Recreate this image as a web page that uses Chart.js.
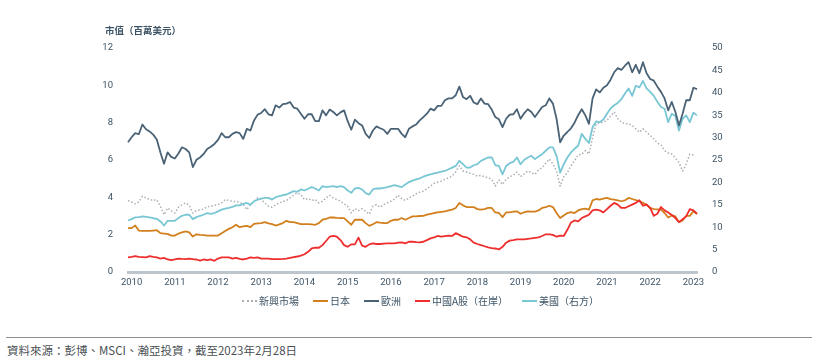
<!DOCTYPE html>
<html>
<head>
<meta charset="utf-8">
<script src="https://cdn.jsdelivr.net/npm/chart.js@4.4.1/dist/chart.umd.min.js"></script>
<style>
  html, body { margin: 0; padding: 0; background: #fff; }
  #wrap { position: relative; width: 820px; height: 362px; overflow: hidden; }
  #c { position: absolute; left: 0; top: 0; }
  #ytitle { position: absolute; left: 105px; top: 23px; font: bold 9.5px "Noto Sans CJK TC", "Noto Sans", sans-serif; color: #3d5466; white-space: nowrap; }
  #legend { position: absolute; left: 242px; top: 293px; display: flex; align-items: center; font: 10px "Noto Sans CJK TC", "Noto Sans", sans-serif; color: #3d5466; white-space: nowrap; }
  #legend .item { display: flex; align-items: center; margin-right: 14px; }
  #legend .swatch { display: inline-block; width: 15px; height: 0; margin-right: 2px; }
  #rule { position: absolute; left: 6px; top: 337px; width: 806px; height: 0; border-top: 1px solid #8a8f93; }
  #source { position: absolute; left: 7px; top: 342px; font: 11.5px "Noto Sans CJK TC", "Noto Sans", sans-serif; color: #4a4f54; white-space: nowrap; }
</style>
</head>
<body>
<div id="wrap">
  <canvas id="c" width="820" height="300"></canvas>
  <div id="ytitle">市值（百萬美元）</div>
  <div id="legend"></div>
  <div id="rule"></div>
  <div id="source">資料來源：彭博、MSCI、瀚亞投資，截至2023年2月28日</div>
</div>
<script>
// ---- categories: month-end points, Dec 2009 .. Feb 2023 ----
const startYear = 2009, startMonth = 12, monthCount = 159;
const months = [];
for (let i = 0; i < monthCount; i++) {
  const t = (startYear * 12 + (startMonth - 1)) + i;
  const y = Math.floor(t / 12), m = (t % 12) + 1;
  months.push(y + '-' + String(m).padStart(2, '0'));
}
const yearLabels = ['2010','2011','2012','2013','2014','2015','2016','2017','2018','2019','2020','2021','2022','2023'];
const leftTicks = [0, 2, 4, 6, 8, 10, 12];
const rightTicks = [0, 5, 10, 15, 20, 25, 30, 35, 40, 45, 50];

// ---- series (left axis unless noted) ----
const emerging = [
  3.83, 3.75, 3.65, 3.75, 4.06, 3.97, 3.90, 3.83, 3.88, 3.52,
  3.07, 3.43, 3.29, 3.16, 3.47, 3.60, 3.70, 3.57, 3.16, 3.29,
  3.32, 3.38, 3.50, 3.52, 3.57, 3.61, 3.70, 3.88, 3.83, 3.79,
  3.77, 3.75, 3.61, 3.34, 3.61, 3.79, 3.97, 3.88, 3.70, 3.52,
  3.47, 3.60, 3.70, 3.77, 3.83, 3.97, 4.11, 4.24, 4.15, 3.88,
  3.93, 3.83, 3.88, 3.70, 3.79, 3.97, 4.11, 3.97, 3.88, 3.79,
  3.65, 3.52, 3.16, 3.39, 3.29, 3.39, 3.25, 3.10, 3.52, 3.61,
  3.47, 3.61, 3.70, 3.79, 3.91, 4.11, 3.93, 3.83, 3.97, 4.06,
  4.19, 4.27, 4.33, 4.46, 4.60, 4.75, 4.81, 4.87, 4.96, 5.05,
  5.14, 5.36, 5.69, 5.41, 5.36, 5.29, 5.23, 5.14, 5.18, 5.10,
  5.05, 4.96, 4.60, 4.93, 4.69, 4.96, 5.11, 5.18, 5.36, 5.11,
  5.25, 5.41, 5.32, 5.23, 5.47, 5.59, 5.83, 6.05, 5.78, 5.41,
  4.60, 5.10, 5.32, 5.69, 5.96, 6.28, 6.30, 6.50, 6.32, 7.20,
  7.94, 7.98, 8.03, 8.12, 8.35, 8.57, 8.21, 8.03, 7.94, 7.94,
  7.85, 7.67, 7.49, 7.67, 7.49, 7.31, 7.13, 6.91, 6.80, 6.50,
  6.37, 6.32, 6.10, 5.86, 5.41, 5.78, 6.32, 6.26, null
];
const japan = [
  2.35, 2.35, 2.49, 2.22, 2.20, 2.20, 2.20, 2.22, 2.24, 2.08,
  2.06, 2.04, 1.95, 1.95, 2.06, 2.12, 2.17, 2.12, 1.90, 2.02,
  1.99, 1.97, 1.95, 1.95, 1.95, 1.95, 2.08, 2.20, 2.31, 2.40,
  2.53, 2.40, 2.44, 2.47, 2.40, 2.58, 2.60, 2.62, 2.67, 2.60,
  2.56, 2.49, 2.55, 2.62, 2.74, 2.67, 2.67, 2.62, 2.56, 2.56,
  2.56, 2.55, 2.53, 2.62, 2.80, 2.85, 2.92, 2.92, 2.90, 2.89,
  2.89, 2.71, 2.53, 2.80, 2.80, 2.80, 2.62, 2.47, 2.56, 2.67,
  2.64, 2.62, 2.62, 2.74, 2.80, 2.80, 2.89, 2.80, 2.89, 2.98,
  2.98, 3.00, 3.01, 3.07, 3.12, 3.16, 3.19, 3.22, 3.25, 3.30,
  3.34, 3.43, 3.70, 3.57, 3.48, 3.48, 3.48, 3.37, 3.34, 3.37,
  3.43, 3.43, 3.19, 3.16, 2.94, 3.19, 3.19, 3.23, 3.25, 3.12,
  3.20, 3.25, 3.23, 3.23, 3.30, 3.43, 3.48, 3.55, 3.48, 3.16,
  2.89, 3.03, 3.16, 3.21, 3.16, 3.30, 3.37, 3.39, 3.34, 3.84,
  3.91, 3.88, 3.93, 3.97, 3.90, 3.88, 3.84, 3.79, 3.84, 3.97,
  3.91, 3.85, 3.79, 3.70, 3.61, 3.43, 3.37, 3.36, 3.34, 3.16,
  2.92, 3.03, 2.98, 2.67, 2.76, 3.01, 3.01, 3.25, 3.10
];
const europe = [
  6.95, 7.22, 7.44, 7.38, 7.90, 7.65, 7.53, 7.36, 7.10, 6.40,
  5.80, 6.41, 6.17, 6.08, 6.35, 6.68, 6.59, 6.41, 5.62, 6.01,
  6.14, 6.32, 6.59, 6.71, 6.86, 7.08, 7.44, 7.22, 7.22, 7.40,
  7.49, 7.44, 7.13, 7.67, 7.58, 8.12, 8.43, 8.52, 8.72, 8.45,
  8.39, 8.93, 8.81, 8.99, 9.02, 9.11, 8.81, 8.75, 8.48, 8.21,
  8.45, 8.45, 8.08, 8.08, 8.66, 8.39, 8.70, 8.57, 8.39, 8.55,
  8.66, 8.08, 7.62, 8.16, 7.97, 7.85, 7.40, 7.18, 7.58, 7.80,
  7.70, 7.62, 7.40, 7.67, 7.67, 7.67, 7.40, 7.22, 7.67, 7.80,
  7.90, 8.12, 8.30, 8.48, 8.75, 8.66, 8.90, 8.90, 9.20, 9.30,
  9.30, 9.47, 9.93, 9.38, 9.26, 9.44, 9.08, 8.99, 9.30, 9.02,
  8.99, 8.70, 8.30, 8.18, 7.76, 8.21, 8.43, 8.45, 8.72, 8.21,
  8.50, 8.72, 8.57, 8.30, 8.57, 8.84, 8.93, 9.30, 9.02, 8.21,
  6.95, 7.31, 7.50, 7.70, 8.00, 8.40, 8.72, 8.39, 7.94, 9.30,
  9.78, 9.62, 9.87, 10.00, 10.30, 10.70, 10.92, 10.83, 11.05, 11.24,
  10.70, 11.10, 10.65, 11.24, 10.65, 10.34, 10.25, 9.93, 9.65, 9.30,
  8.66, 9.11, 8.57, 7.85, 8.48, 9.20, 9.20, 9.87, 9.80
];
const chinaA = [
  0.78, 0.81, 0.85, 0.81, 0.80, 0.78, 0.85, 0.81, 0.78, 0.72,
  0.76, 0.67, 0.63, 0.67, 0.72, 0.70, 0.69, 0.72, 0.69, 0.67,
  0.61, 0.67, 0.63, 0.67, 0.60, 0.72, 0.78, 0.78, 0.78, 0.72,
  0.76, 0.70, 0.67, 0.72, 0.78, 0.76, 0.78, 0.72, 0.72, 0.72,
  0.69, 0.69, 0.69, 0.70, 0.72, 0.76, 0.80, 0.83, 0.88, 0.95,
  1.08, 1.26, 1.30, 1.30, 1.44, 1.66, 1.89, 1.93, 1.89, 1.71,
  1.44, 1.35, 1.48, 1.48, 1.84, 1.41, 1.35, 1.48, 1.53, 1.50,
  1.50, 1.52, 1.53, 1.53, 1.53, 1.57, 1.59, 1.53, 1.62, 1.62,
  1.60, 1.59, 1.62, 1.71, 1.80, 1.86, 1.93, 1.89, 1.92, 1.95,
  1.93, 2.08, 1.99, 1.89, 1.86, 1.75, 1.57, 1.50, 1.44, 1.38,
  1.32, 1.28, 1.26, 1.21, 1.35, 1.57, 1.68, 1.71, 1.75, 1.75,
  1.75, 1.78, 1.80, 1.83, 1.86, 1.93, 2.02, 2.02, 1.99, 1.89,
  1.95, 1.93, 2.26, 2.65, 2.76, 2.71, 2.89, 2.98, 3.07, 3.30,
  3.34, 3.30, 3.19, 3.37, 3.55, 3.70, 3.61, 3.43, 3.43, 3.52,
  3.61, 3.70, 3.84, 3.55, 3.61, 3.43, 3.01, 3.12, 3.48, 3.30,
  3.19, 3.05, 2.89, 2.67, 2.83, 2.98, 3.37, 3.30, 3.12
];
// right axis
const usa = [
  11.50, 11.80, 12.18, 12.25, 12.40, 12.30, 12.20, 12.00, 11.88, 11.28,
  10.38, 11.43, 11.43, 11.43, 12.03, 12.55, 12.78, 12.78, 11.80, 12.25,
  12.55, 12.78, 13.16, 13.00, 13.16, 13.53, 13.91, 14.13, 14.30, 14.51,
  14.88, 14.88, 15.20, 15.41, 15.03, 15.78, 16.16, 16.40, 16.54, 16.54,
  16.16, 16.70, 16.91, 17.14, 17.30, 17.67, 18.04, 17.89, 18.42, 18.19,
  18.57, 18.94, 18.64, 18.19, 19.17, 18.94, 19.05, 19.17, 18.94, 19.17,
  18.94, 18.19, 17.67, 18.64, 18.79, 18.42, 17.60, 17.29, 18.42, 18.64,
  18.64, 18.80, 18.94, 19.17, 19.40, 19.17, 18.94, 19.55, 20.07, 20.40,
  20.68, 20.90, 21.27, 21.58, 21.80, 22.03, 22.18, 22.40, 22.55, 22.93,
  23.30, 23.68, 24.81, 24.06, 23.30, 23.30, 23.83, 24.06, 24.81, 25.20,
  25.56, 25.56, 23.83, 23.68, 21.80, 23.68, 24.29, 24.58, 25.56, 24.06,
  25.00, 25.56, 25.94, 25.19, 25.79, 26.31, 27.06, 27.81, 27.81, 25.94,
  22.18, 24.06, 25.56, 26.69, 27.50, 28.19, 30.83, 29.70, 28.79, 32.32,
  33.60, 33.45, 34.05, 35.33, 36.50, 37.21, 37.73, 38.57, 39.85, 40.98,
  39.31, 41.57, 41.20, 42.62, 40.98, 40.21, 39.31, 38.00, 36.83, 36.45,
  33.45, 35.33, 34.80, 31.58, 34.21, 34.96, 33.45, 35.56, 34.96
];

const seriesNames = ['新興市場', '日本', '歐洲', '中國A股（在岸）', '美國（右方）'];
const colors = { em: '#a9afb3', jp: '#d27f1d', eu: '#4a6275', cn: '#ee2d2d', us: '#79c7d5' };

// ---- HTML legend ----
const legendDefs = [
  { name: seriesNames[0], border: '2px dotted ' + colors.em },
  { name: seriesNames[1], border: '2px solid ' + colors.jp },
  { name: seriesNames[2], border: '2px solid ' + colors.eu },
  { name: seriesNames[3], border: '2px solid ' + colors.cn },
  { name: seriesNames[4], border: '2px solid ' + colors.us }
];
const legendEl = document.getElementById('legend');
legendDefs.forEach(d => {
  const it = document.createElement('span'); it.className = 'item';
  const sw = document.createElement('span'); sw.className = 'swatch'; sw.style.borderTop = d.border;
  const tx = document.createElement('span'); tx.textContent = d.name;
  it.appendChild(sw); it.appendChild(tx); legendEl.appendChild(it);
});

const tickFont = { family: 'Roboto, "Noto Sans", sans-serif', size: 9.5 };
const tickColor = '#3d5466';

new Chart(document.getElementById('c'), {
  type: 'line',
  data: {
    labels: months,
    datasets: [
      { label: seriesNames[3], data: chinaA, borderColor: colors.cn, borderWidth: 1.8, yAxisID: 'y' },
      { label: seriesNames[1], data: japan, borderColor: colors.jp, borderWidth: 1.8, yAxisID: 'y' },
      { label: seriesNames[2], data: europe, borderColor: colors.eu, borderWidth: 1.8, yAxisID: 'y' },
      { label: seriesNames[4], data: usa, borderColor: colors.us, borderWidth: 1.8, yAxisID: 'y1' },
      { label: seriesNames[0], data: emerging, borderColor: colors.em, borderWidth: 1.5, borderDash: [1.5, 2], yAxisID: 'y' }
    ]
  },
  options: {
    responsive: false,
    animation: false,
    devicePixelRatio: 1,
    events: [],
    layout: { padding: { top: 48, bottom: 3, left: 0, right: 0 } },
    elements: { point: { radius: 0 }, line: { tension: 0, fill: false, borderJoinStyle: 'round' } },
    plugins: { legend: { display: false }, tooltip: { enabled: false } },
    scales: {
      x: {
        type: 'category',
        offset: false,
        grid: { display: false, drawTicks: false },
        border: { display: true, color: '#bcc6cc', width: 3 },
        afterFit: s => { s.height = 25; },
        ticks: {
          autoSkip: false, maxRotation: 0, minRotation: 0, padding: 5,
          color: tickColor, font: tickFont,
          callback: function (v) {
            const lab = this.getLabelForValue(v);
            const yr = lab.slice(0, 4);
            return (lab.endsWith('-01') && yearLabels.includes(yr)) ? yr : '';
          }
        }
      },
      y: {
        position: 'left', min: 0, max: 12,
        grid: { display: false, drawTicks: false },
        border: { display: false },
        afterFit: s => { s.width = 128; },
        afterBuildTicks: s => { s.ticks = leftTicks.map(v => ({ value: v })); },
        ticks: { padding: 15, color: tickColor, font: tickFont }
      },
      y1: {
        position: 'right', min: 0, max: 50,
        grid: { display: false, drawTicks: false },
        border: { display: false },
        afterFit: s => { s.width = 123; },
        afterBuildTicks: s => { s.ticks = rightTicks.map(v => ({ value: v })); },
        ticks: { padding: 15, color: tickColor, font: tickFont }
      }
    }
  }
});
</script>
</body>
</html>
